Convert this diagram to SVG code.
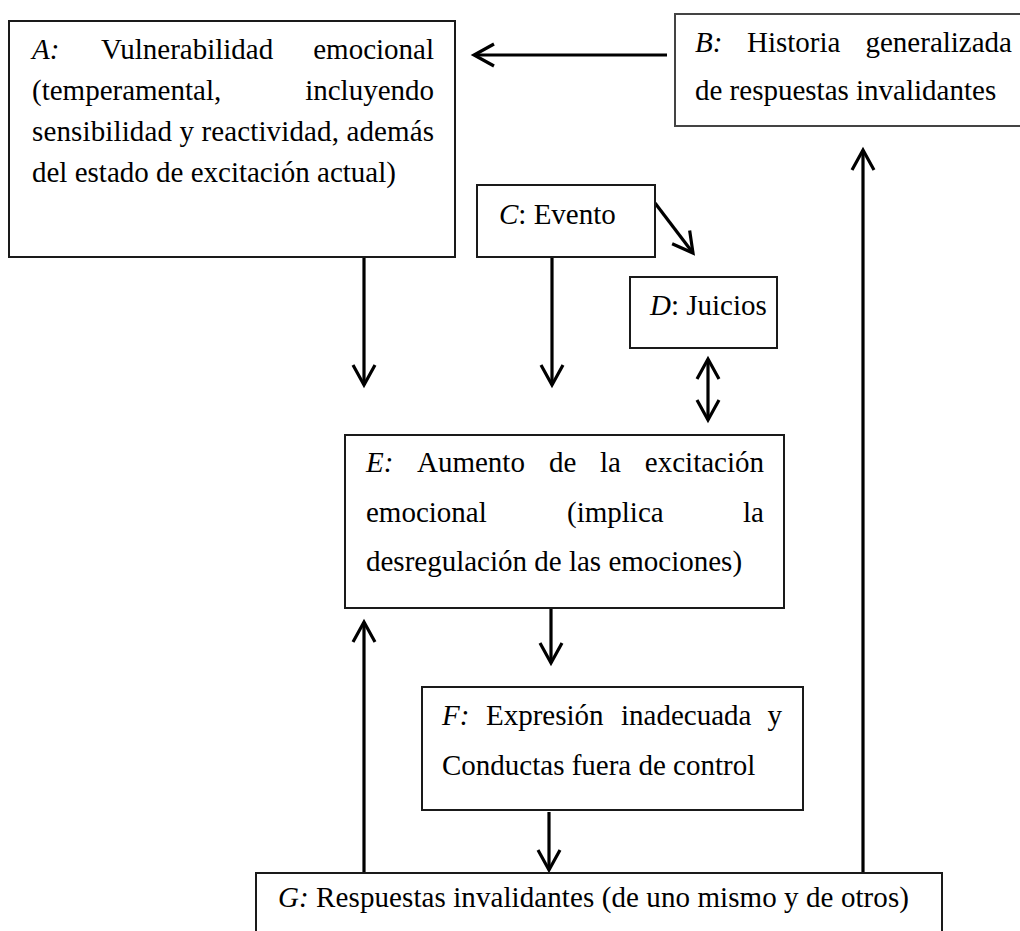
<svg xmlns="http://www.w3.org/2000/svg" width="1020" height="931" viewBox="0 0 1020 931">
<style>
.box{fill:#fff;stroke:#1a1a1a;stroke-width:2}
.boxg{fill:#fff;stroke:#444;stroke-width:2}
.t{font-family:"Liberation Serif","Times New Roman",serif;font-size:29px;fill:#000}
.i{font-style:italic}
.c{fill:none;stroke:#000;stroke-width:3.2}
</style>
<defs>
<marker id="ah" markerUnits="userSpaceOnUse" markerWidth="40" markerHeight="40" viewBox="-30 -20 40 40" refX="0" refY="0" orient="auto-start-reverse">
<path d="M-20,-11 L0,0 L-20,11" fill="none" stroke="#000" stroke-width="3.2" stroke-linejoin="miter"/>
</marker>
</defs>
<rect width="1020" height="931" fill="#fff"/>

<g id="connectors">
<path class="c" d="M667,55 L474,55" marker-end="url(#ah)"/>
<path class="c" d="M655,203 L693,253" marker-end="url(#ah)"/>
<path class="c" d="M364,257 L364,385" marker-end="url(#ah)"/>
<path class="c" d="M552,257 L552,385" marker-end="url(#ah)"/>
<path class="c" d="M708,359 L708,420" marker-start="url(#ah)" marker-end="url(#ah)"/>
<path class="c" d="M551,608 L551,663" marker-end="url(#ah)"/>
<path class="c" d="M549,812 L549,870" marker-end="url(#ah)"/>
<path class="c" d="M364,873 L364,622" marker-end="url(#ah)"/>
<path class="c" d="M863,873 L863,150" marker-end="url(#ah)"/>
</g>

<g id="nodeA">
<rect class="box" x="9" y="21" width="446" height="236"/>
<text class="t" y="59"><tspan x="32" class="i">A:</tspan><tspan x="101">Vulnerabilidad</tspan><tspan x="434" text-anchor="end">emocional</tspan></text>
<text class="t" y="100"><tspan x="32">(temperamental,</tspan><tspan x="434" text-anchor="end">incluyendo</tspan></text>
<text class="t" x="32" y="141" textLength="402" lengthAdjust="spacing">sensibilidad y reactividad, además</text>
<text class="t" x="32" y="182">del estado de excitación actual)</text>
</g>

<g id="nodeB">
<rect class="boxg" x="675" y="14" width="370" height="112"/>
<text class="t" y="52"><tspan x="695" class="i">B:</tspan><tspan x="747">Historia</tspan><tspan x="1012" text-anchor="end">generalizada</tspan></text>
<text class="t" x="695" y="100">de respuestas invalidantes</text>
</g>

<g id="nodeC">
<rect class="box" x="477" y="185" width="178" height="72"/>
<text class="t" x="499" y="224"><tspan class="i">C</tspan>: Evento</text>
</g>

<g id="nodeD">
<rect class="box" x="630" y="277" width="147" height="71"/>
<text class="t" x="650" y="315"><tspan class="i">D</tspan>: Juicios</text>
</g>

<g id="nodeE">
<rect class="box" x="345" y="435" width="439" height="173"/>
<text class="t" y="472"><tspan x="366" class="i">E:</tspan><tspan x="417">Aumento</tspan><tspan x="549">de</tspan><tspan x="600">la</tspan><tspan x="764" text-anchor="end">excitación</tspan></text>
<text class="t" y="522"><tspan x="366">emocional</tspan><tspan x="567">(implica</tspan><tspan x="764" text-anchor="end">la</tspan></text>
<text class="t" x="366" y="571">desregulación de las emociones)</text>
</g>

<g id="nodeF">
<rect class="box" x="422" y="687" width="381" height="123"/>
<text class="t" y="725"><tspan x="442" class="i">F:</tspan><tspan x="486">Expresión</tspan><tspan x="621">inadecuada</tspan><tspan x="782" text-anchor="end">y</tspan></text>
<text class="t" x="442" y="775">Conductas fuera de control</text>
</g>

<g id="nodeG">
<rect class="box" x="256" y="873" width="686" height="80"/>
<text class="t" x="278" y="907" textLength="631" lengthAdjust="spacing"><tspan class="i">G:</tspan> Respuestas invalidantes (de uno mismo y de otros)</text>
</g>
</svg>
